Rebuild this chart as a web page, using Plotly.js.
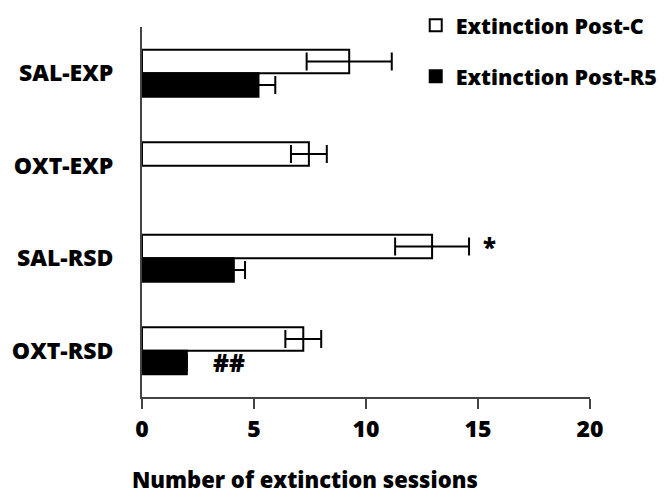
<!DOCTYPE html>
<html>
<head>
<meta charset="utf-8">
<script src="https://cdn.plot.ly/plotly-3.0.1.min.js"></script>
<style>html,body{margin:0;padding:0;background:#fff;}#chart{width:671px;height:502px;}</style>
</head>
<body>
<div id="chart"></div>
<script>
const groups = ["SAL-EXP", "OXT-EXP", "SAL-RSD", "OXT-RSD"];
const postC = [9.25, 7.45, 12.95, 7.2];
const postCErr = [1.9, 0.8, 1.65, 0.8];
const postR5 = [5.2, null, 4.1, 2.0];
const postR5Err = [0.75, null, 0.5, 0];
const seriesNames = ["Extinction Post-C", "Extinction Post-R5"];
const xTicks = [0, 5, 10, 15, 20];
const marks = [
  {group: "SAL-RSD", x: 15.5, text: "*", side: -1},
  {group: "OXT-RSD", x: 3.9, text: "##", side: 1}
];

const font = {family: "'Open Sans', Lato, sans-serif", color: "#000", weight: 800};

const traces = [
  {
    type: "bar", orientation: "h", name: seriesNames[0], legendgroup: "a",
    y: groups, x: postC,
    marker: {color: "#ffffff", line: {color: "#000", width: 2}},
    error_x: {type: "data", array: postCErr, visible: true, color: "#000", thickness: 2, width: 9}
  },
  {
    type: "bar", orientation: "h", name: seriesNames[1], legendgroup: "b",
    y: groups, x: postR5,
    marker: {color: "#000000", line: {color: "#000", width: 2}},
    error_x: {type: "data", array: postR5Err, visible: true, color: "#000", thickness: 2, width: 9}
  }
];

const layout = {
  width: 671, height: 502,
  margin: {l: 142, r: 81, t: 27, b: 105, autoexpand: false},
  paper_bgcolor: "#fff", plot_bgcolor: "#fff",
  barmode: "group", bargap: 0.49, bargroupgap: 0,
  font: font,
  showlegend: true,
  legend: {
    x: 0.611, y: 1.06, xanchor: "left", yanchor: "top",
    font: Object.assign({}, font, {size: 21.5}),
    tracegroupgap: 20, bgcolor: "rgba(0,0,0,0)", itemwidth: 30
  },
  xaxis: {
    range: [0, 20], tickvals: xTicks, ticktext: xTicks.map(String),
    showgrid: false, zeroline: false, showline: true, linecolor: "#444", linewidth: 2,
    ticks: "outside", ticklen: 10, tickwidth: 2, tickcolor: "#444",
    tickfont: Object.assign({}, font, {size: 23}),
    fixedrange: true
  },
  yaxis: {
    type: "category", categoryorder: "array", categoryarray: groups,
    range: [3.5, -0.5],
    showgrid: false, zeroline: false, showline: true, linecolor: "#444", linewidth: 2,
    ticks: "", ticklabelstandoff: 22,
    tickfont: Object.assign({}, font, {size: 23}),
    fixedrange: true
  },
  annotations: marks.map(m => ({
    x: m.x, y: m.group, xref: "x", yref: "y", text: m.text, showarrow: false,
    yshift: m.side * -12, font: Object.assign({}, font, {size: 24})
  })).concat([{
    x: 0.363, y: -0.222, xref: "paper", yref: "paper",
    text: "Number of extinction sessions", showarrow: false,
    xanchor: "center", yanchor: "middle",
    font: Object.assign({}, font, {size: 22})
  }])
};

Plotly.newPlot("chart", traces, layout, {displayModeBar: false, staticPlot: true});
</script>
</body>
</html>
